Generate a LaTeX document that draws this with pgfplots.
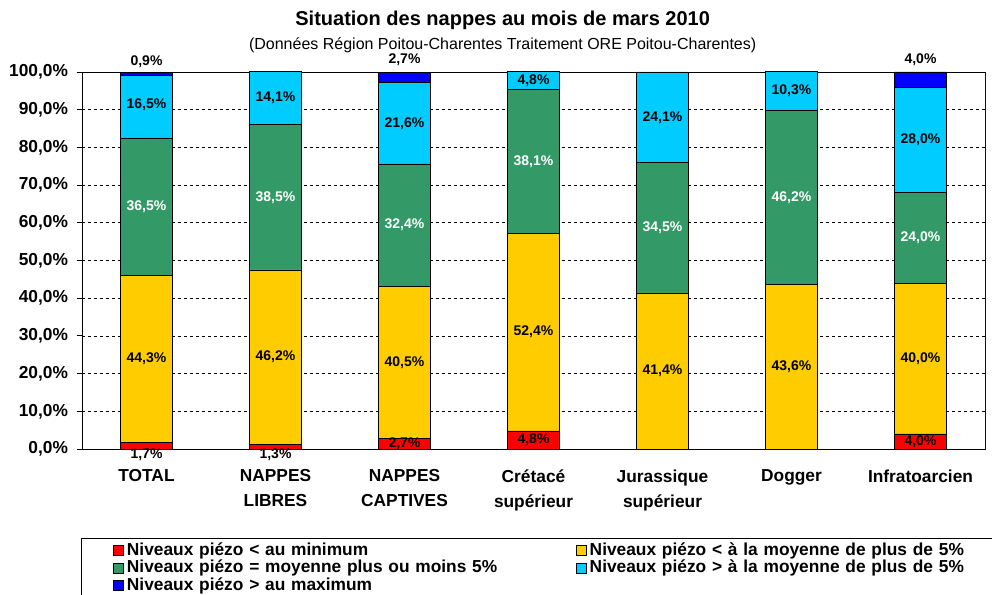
\documentclass[border=0pt]{standalone}
\usepackage{fontspec}
\setmainfont{Liberation Sans}
\usepackage{pgfplots}
\pgfplotsset{compat=1.18}
\usepackage{pgfplotstable}

\definecolor{cmin}{RGB}{255,0,0}
\definecolor{cbas}{RGB}{255,204,0}
\definecolor{cmoy}{RGB}{51,153,102}
\definecolor{chaut}{RGB}{0,204,255}
\definecolor{cmax}{RGB}{0,0,255}

% parts (%) par categorie
\pgfplotstableread{
x min bas moy haut max
0 1.7 44.3 36.5 16.5 0.9
1 1.3 46.2 38.5 14.1 0
2 2.7 40.5 32.4 21.6 2.7
3 4.8 52.4 38.1 4.8 0
4 0 41.4 34.5 24.1 0
5 0 43.6 46.2 10.3 0
6 4.0 40.0 24.0 28.0 4.0
}\nappes

% etiquettes : position y et valeur
\pgfplotstableread{
x y v
0 -1.6 1.7
0 23.85 44.3
0 91.25 16.5
0 102.6 0.9
1 -1.6 1.3
1 24.4 46.2
1 93.05 14.1
2 1.35 2.7
2 22.95 40.5
2 86.4 21.6
2 103.2 2.7
3 2.4 4.8
3 31.0 52.4
3 97.7 4.8
4 20.7 41.4
4 87.95 24.1
5 21.8 43.6
5 94.95 10.3
6 2.0 4.0
6 24.0 40.0
6 82.0 28.0
6 103.2 4.0
}\lblnoir

\pgfplotstableread{
x y v
0 64.25 36.5
1 66.75 38.5
2 59.4 32.4
3 76.25 38.1
4 58.65 34.5
5 66.7 46.2
6 56.0 24.0
}\lblblanc

\pgfplotsset{
  carre/.style={legend image code/.code={
    \draw[##1,draw=black,line width=0.6pt] (0pt,-3.75pt) rectangle (7.5pt,3.75pt);}},
}

\begin{document}
\begin{tikzpicture}
\path[use as bounding box, fill=white] (0pt,0pt) rectangle (744pt,446.25pt);
\node[font=\bfseries\fontsize{15}{18}\selectfont] at (377pt,431pt)
  {Situation des nappes au mois de mars 2010};
\node[font=\fontsize{12}{14}\selectfont] at (377pt,412.5pt)
  {(Données Région Poitou-Charentes Traitement ORE Poitou-Charentes)};

\begin{axis}[
  at={(61.5pt,109.5pt)}, anchor=south west,
  scale only axis, width=677.25pt, height=282.75pt,
  ybar stacked, bar width=39pt,
  xmin=-0.5, xmax=6.5, ymin=0, ymax=100,
  xtick={0,...,6},
  xticklabels={TOTAL,{NAPPES\\LIBRES},{NAPPES\\CAPTIVES},{Crétacé\\supérieur},
    {Jurassique\\supérieur},Dogger,Infratoarcien},
  x tick label style={align=center, font=\bfseries\fontsize{13}{18.75}\selectfont,
    anchor=north, yshift=-8pt},
  major x tick style={draw=none},
  extra x ticks={-0.5,0.5,...,6.5},
  extra x tick labels={},
  extra x tick style={major tick length=4pt, tick align=outside,
    tick style={black, line width=0.6pt}},
  ytick={0,10,...,100},
  yticklabel={\pgfmathprintnumber[fixed,fixed zerofill,precision=1,use comma]{\tick}\%},
  /pgf/number format/assume math mode=true,
  y tick label style={font=\bfseries\fontsize{13}{15}\selectfont, xshift=-3pt},
  ytick pos=left, xtick pos=bottom,
  major y tick style={black, line width=0.6pt},
  tick align=outside, major tick length=4pt,
  ymajorgrids, grid style={black, line width=0.5pt, dash pattern=on 2.25pt off 2.25pt},
  axis line style={black, line width=0.7pt},
  legend columns=2,
  legend cell align=left,
  legend style={at={(axis description cs:-0.0011,-0.2361)}, anchor=north west,
    draw=black, line width=0.7pt,
    font=\bfseries\fontsize{13}{14}\selectfont,
    nodes={text width=322pt, text height=9.5pt, text depth=2.5pt, inner ysep=0.6pt},
    inner xsep=24pt, inner ysep=2.5pt,
    /tikz/every even column/.append style={column sep=13pt}},
  every axis plot/.append style={draw=black, line width=0.6pt},
]
\addplot[fill=cmin, carre] table[x=x, y=min] {\nappes};
\addlegendentry{Niveaux piézo < au minimum}
\addplot[fill=cbas, carre] table[x=x, y=bas] {\nappes};
\addlegendentry{Niveaux piézo < à la moyenne de plus de 5\%}
\addplot[fill=cmoy, carre] table[x=x, y=moy] {\nappes};
\addlegendentry{Niveaux piézo = moyenne plus ou moins 5\%}
\addplot[fill=chaut, carre] table[x=x, y=haut] {\nappes};
\addlegendentry{Niveaux piézo > à la moyenne de plus de 5\%}
\addplot[fill=cmax, carre] table[x=x, y=max] {\nappes};
\addlegendentry{Niveaux piézo > au maximum}
\draw[gray, line width=0.7pt] (rel axis cs:1,0) -- (rel axis cs:1,1);
\end{axis}

\begin{axis}[
  at={(61.5pt,109.5pt)}, anchor=south west,
  scale only axis, width=677.25pt, height=282.75pt,
  xmin=-0.5, xmax=6.5, ymin=0, ymax=100,
  hide axis, clip=false,
  nodes near coords={\pgfmathprintnumber[fixed,fixed zerofill,precision=1,use comma]{\pgfplotspointmeta}\%},
  /pgf/number format/assume math mode=true,
]
\addplot[only marks, mark=none, point meta=\thisrow{v},
  every node near coord/.append style={anchor=center, black,
    font=\bfseries\fontsize{10.5}{12}\selectfont}]
  table[x=x, y=y] {\lblnoir};
\addplot[only marks, mark=none, point meta=\thisrow{v},
  every node near coord/.append style={anchor=center, white,
    font=\bfseries\fontsize{10.5}{12}\selectfont}]
  table[x=x, y=y] {\lblblanc};
\end{axis}
\end{tikzpicture}
\end{document}
